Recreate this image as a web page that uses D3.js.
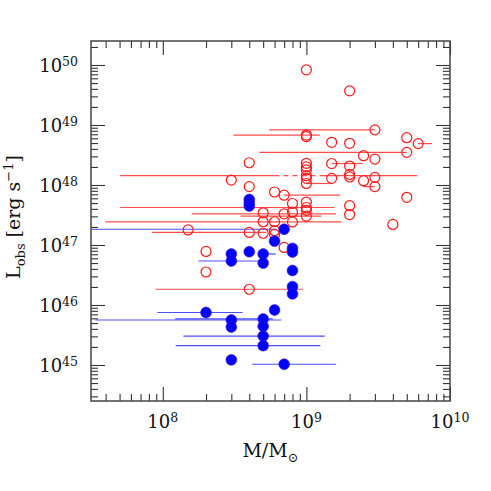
<!DOCTYPE html>
<html>
<head>
<meta charset="utf-8">
<script src="https://cdn.jsdelivr.net/npm/d3@7"></script>
<style>
  html, body { margin: 0; padding: 0; background: #fff; }
  svg text { font-family: "DejaVu Serif", "Liberation Serif", serif; fill: #111; }
</style>
</head>
<body>
<svg id="chart" width="491" height="491"></svg>
<script>
// open red circles: mass, luminosity, and mass error bar ends (null = no bar)
const redMass = [1e9, 2e9, 3e9, 1e9, 1e9, 1.5e9, 2e9, 5e9, 6e9, 5e9,
  2.5e9, 3e9, 4e8, 1e9, 1e9, 1e9, 1.5e9, 2e9, 1e9, 1e9,
  1e9, 1.5e9, 2e9, 2e9, 3e9, 2.5e9, 3e9, 3e8, 4e8, 6e8,
  7e8, 5e9, 8e8, 1e9, 1e9, 1e9, 1e9, 2e9, 2e9, 5e8,
  7e8, 8e8, 5e8, 6e8, 8e8, 4e9, 1.5e8, 4e8, 5e8, 6e8,
  6e8, 7e8, 2e8, 2e8, 4e8];
const redLum = [8.3e49, 3.7e49, 8.3e48, 6.8e48, 6.4e48, 5.15e48, 4.95e48, 6.15e48, 4.9e48, 3.5e48,
  3.08e48, 2.7e48, 2.35e48, 2.3e48, 2.0e48, 1.78e48, 2.28e48, 2.07e48, 1.43e48, 1.29e48,
  1.06e48, 1.29e48, 1.5e48, 1.36e48, 1.34e48, 1.18e48, 9.4e47, 1.21e48, 9.4e47, 7.65e47,
  6.76e47, 6.24e47, 4.92e47, 5.2e47, 4.22e47, 3.79e47, 3.04e47, 4.52e47, 3.22e47, 3.44e47,
  3.31e47, 3.55e47, 2.44e47, 2.44e47, 2.42e47, 2.2e47, 1.78e47, 1.62e47, 1.57e47, 1.73e47,
  1.5e47, 9.1e46, 7.8e46, 3.55e46, 1.83e46];
const redLo = [null, null, 5.5e8, 3.1e8, null, null, null, null, 6e9, 4.7e8,
  null, null, null, null, null, null, 1.5e9, null, 5.05e7, null,
  1e9, null, null, null, null, null, 2.47e9, null, null, null,
  7e8, null, null, null, 5.05e7, null, 3.48e8, null, null, null,
  1.59e8, null, null, null, 3.97e7, null, null, 8.4e7, null, null,
  null, null, null, null, 8.9e7];
const redHi = [null, null, 3e9, 1.24e9, null, null, null, null, 7.5e9, 5e9,
  null, null, null, null, null, null, 2.47e9, null, 5.93e9, null,
  1.5e9, null, null, null, null, null, 3e9, null, null, null,
  1.72e9, null, null, null, 1.57e9, null, 1.27e9, null, null, null,
  1.61e9, null, null, null, 1.75e9, null, null, 5.27e8, null, null,
  null, null, null, null, 9.47e8];
// dashed stretch of one red bar: [luminosity, mass from, mass to]
const redDashed = [[1.43e48, 6.0e8, 1.24e9]];

// filled blue points
const blueMass = [4e8, 4e8, 4e8, 7e8, 6e8, 8e8, 8e8, 3e8, 3e8, 4e8,
  5e8, 5e8, 8e8, 8e8, 8e8, 2e8, 6e8, 3e8, 3e8, 5e8,
  5e8, 5e8, 5e8, 3e8, 7e8];
const blueLum = [5.73e47, 5.0e47, 4.47e47, 1.83e47, 1.16e47, 8.8e46, 7.65e46, 7.08e46, 5.41e46, 7.73e46,
  7.08e46, 5.0e46, 3.76e46, 2.03e46, 1.53e46, 7.5e45, 8.25e45, 5.62e45, 4.3e45, 5.85e45,
  4.42e45, 3.04e45, 2.1e45, 1.22e45, 1.03e45];
const blueLo = [null, null, null, 2e7, null, null, null, null, 1.77e8, null,
  5e8, null, null, null, null, 9.18e7, null, 3.39e7, null, 1.22e8,
  null, 1.39e8, 1.23e8, null, 4.19e8];
const blueHi = [null, null, null, 6.2e8, null, null, null, null, 4.94e8, null,
  6.12e8, null, null, null, null, 3.59e8, null, 6.7e8, null, 5.83e8,
  null, 1.34e9, 1.25e9, null, 1.61e9];

const xMajor = [1e8, 1e9, 1e10];
const xMajorExp = ["8", "9", "10"];
const yMajor = [1e45, 1e46, 1e47, 1e48, 1e49, 1e50];
const yMajorExp = ["45", "46", "47", "48", "49", "50"];

const svg = d3.select("#chart");
const margin = {top: 41, right: 41, bottom: 90, left: 91};
const width = 491, height = 491;

const x = d3.scaleLog()
    .domain([Math.pow(10, 7.5), 1e10])
    .range([margin.left, width - margin.right]);

const y = d3.scaleLog()
    .domain([Math.pow(10, 44.4), Math.pow(10, 50.4)])
    .range([height - margin.bottom, margin.top]);

const x0 = margin.left, x1 = width - margin.right;
const y0 = margin.top, y1 = height - margin.bottom;

svg.append("clipPath").attr("id", "clip")
  .append("rect")
    .attr("x", x0).attr("y", y0)
    .attr("width", x1 - x0).attr("height", y1 - y0);

const plot = svg.append("g").attr("clip-path", "url(#clip)");

// error bars
const redBars = d3.range(redMass.length).filter(i => redLo[i] !== null);
plot.selectAll(".rbar").data(redBars).join("line")
    .attr("x1", i => x(redLo[i])).attr("x2", i => x(redHi[i]))
    .attr("y1", i => y(redLum[i])).attr("y2", i => y(redLum[i]))
    .attr("stroke", "#ff2020").attr("stroke-opacity", 0.8).attr("stroke-width", 1.2);

// the dashed stretch: blank the solid line underneath, then dash it
plot.selectAll(".rgap").data(redDashed).join("line")
    .attr("x1", d => x(d[1])).attr("x2", d => x(d[2]))
    .attr("y1", d => y(d[0])).attr("y2", d => y(d[0]))
    .attr("stroke", "#fff").attr("stroke-width", 2);
plot.selectAll(".rdash").data(redDashed).join("line")
    .attr("x1", d => x(d[1])).attr("x2", d => x(d[2]))
    .attr("y1", d => y(d[0])).attr("y2", d => y(d[0]))
    .attr("stroke", "#ff2020").attr("stroke-opacity", 0.8).attr("stroke-width", 1.2)
    .attr("stroke-dasharray", "5,4");

const blueBars = d3.range(blueMass.length).filter(i => blueLo[i] !== null);
plot.selectAll(".bbar").data(blueBars).join("line")
    .attr("x1", i => x(blueLo[i])).attr("x2", i => x(blueHi[i]))
    .attr("y1", i => y(blueLum[i])).attr("y2", i => y(blueLum[i]))
    .attr("stroke", "#2020ff").attr("stroke-opacity", 0.8).attr("stroke-width", 1.2);

// points
plot.selectAll(".rpt").data(d3.range(redMass.length)).join("circle")
    .attr("cx", i => x(redMass[i])).attr("cy", i => y(redLum[i]))
    .attr("r", 5)
    .attr("fill", "none").attr("stroke", "#ff1a1a").attr("stroke-width", 1.2);

plot.selectAll(".bpt").data(d3.range(blueMass.length)).join("circle")
    .attr("cx", i => x(blueMass[i])).attr("cy", i => y(blueLum[i]))
    .attr("r", 5.4)
    .attr("fill", "#0000ff").attr("stroke", "#3a10d0").attr("stroke-width", 0.6);

// ticks on all four sides, pointing inwards
const xTicks = x.ticks(10);
const yTicks = y.ticks(10);
const isMajor = v => Math.abs(Math.log10(v) - Math.round(Math.log10(v))) < 1e-6;
const xMinor = xTicks.filter(v => !isMajor(v));
const yMinor = yTicks.filter(v => !isMajor(v));
const xMaj = xTicks.filter(isMajor);
const yMaj = yTicks.filter(isMajor);

function tickAxis(axisFn, scale, values, size, transform) {
  const g = svg.append("g")
      .attr("transform", transform)
      .call(axisFn(scale).tickValues(values).tickSize(size).tickSizeOuter(0).tickFormat(""));
  g.select(".domain").remove();
  g.selectAll("line").attr("stroke", "#333").attr("stroke-width", 1.1);
}

tickAxis(d3.axisBottom, x, xMinor, -7, `translate(0,${y1})`);
tickAxis(d3.axisBottom, x, xMaj, -14, `translate(0,${y1})`);
tickAxis(d3.axisTop, x, xMinor, -7, `translate(0,${y0})`);
tickAxis(d3.axisTop, x, xMaj, -14, `translate(0,${y0})`);
tickAxis(d3.axisLeft, y, yMinor, -7, `translate(${x0},0)`);
tickAxis(d3.axisLeft, y, yMaj, -14, `translate(${x0},0)`);
tickAxis(d3.axisRight, y, yMinor, -7, `translate(${x1},0)`);
tickAxis(d3.axisRight, y, yMaj, -14, `translate(${x1},0)`);

svg.append("rect")
    .attr("x", x0).attr("y", y0)
    .attr("width", x1 - x0).attr("height", y1 - y0)
    .attr("fill", "none").attr("stroke", "#444").attr("stroke-width", 1.5);

// tick labels
xMajor.forEach((v, i) => {
  const t = svg.append("text")
      .attr("x", x(v)).attr("y", y1 + 27)
      .attr("text-anchor", "middle")
      .style("font-size", "18px");
  t.append("tspan").text("10");
  t.append("tspan").attr("dy", -6).style("font-size", "12.5px").text(xMajorExp[i]);
});

yMajor.forEach((v, i) => {
  const t = svg.append("text")
      .attr("x", x0 - 13).attr("y", y(v) + 7)
      .attr("text-anchor", "end")
      .style("font-size", "18px");
  t.append("tspan").text("10");
  t.append("tspan").attr("dy", -6).style("font-size", "12.5px").text(yMajorExp[i]);
});

// axis titles
const xt = svg.append("text")
    .attr("x", (x0 + x1) / 2).attr("y", y1 + 56)
    .attr("text-anchor", "middle")
    .style("font-size", "19px");
xt.append("tspan").text("M/M");
xt.append("tspan").attr("dy", 5).style("font-size", "13px").text("\u2299");

const yt = svg.append("text")
    .attr("transform", `translate(20,${(y0 + y1) / 2 - 4}) rotate(-90)`)
    .attr("text-anchor", "middle")
    .style("font-size", "19px");
yt.append("tspan").text("L");
yt.append("tspan").attr("dy", 5).style("font-size", "13px").text("obs");
yt.append("tspan").attr("dy", -5).text(" [erg s");
yt.append("tspan").attr("dy", -7).style("font-size", "13px").text("\u22121");
yt.append("tspan").attr("dy", 7).text("]");
</script>
</body>
</html>
